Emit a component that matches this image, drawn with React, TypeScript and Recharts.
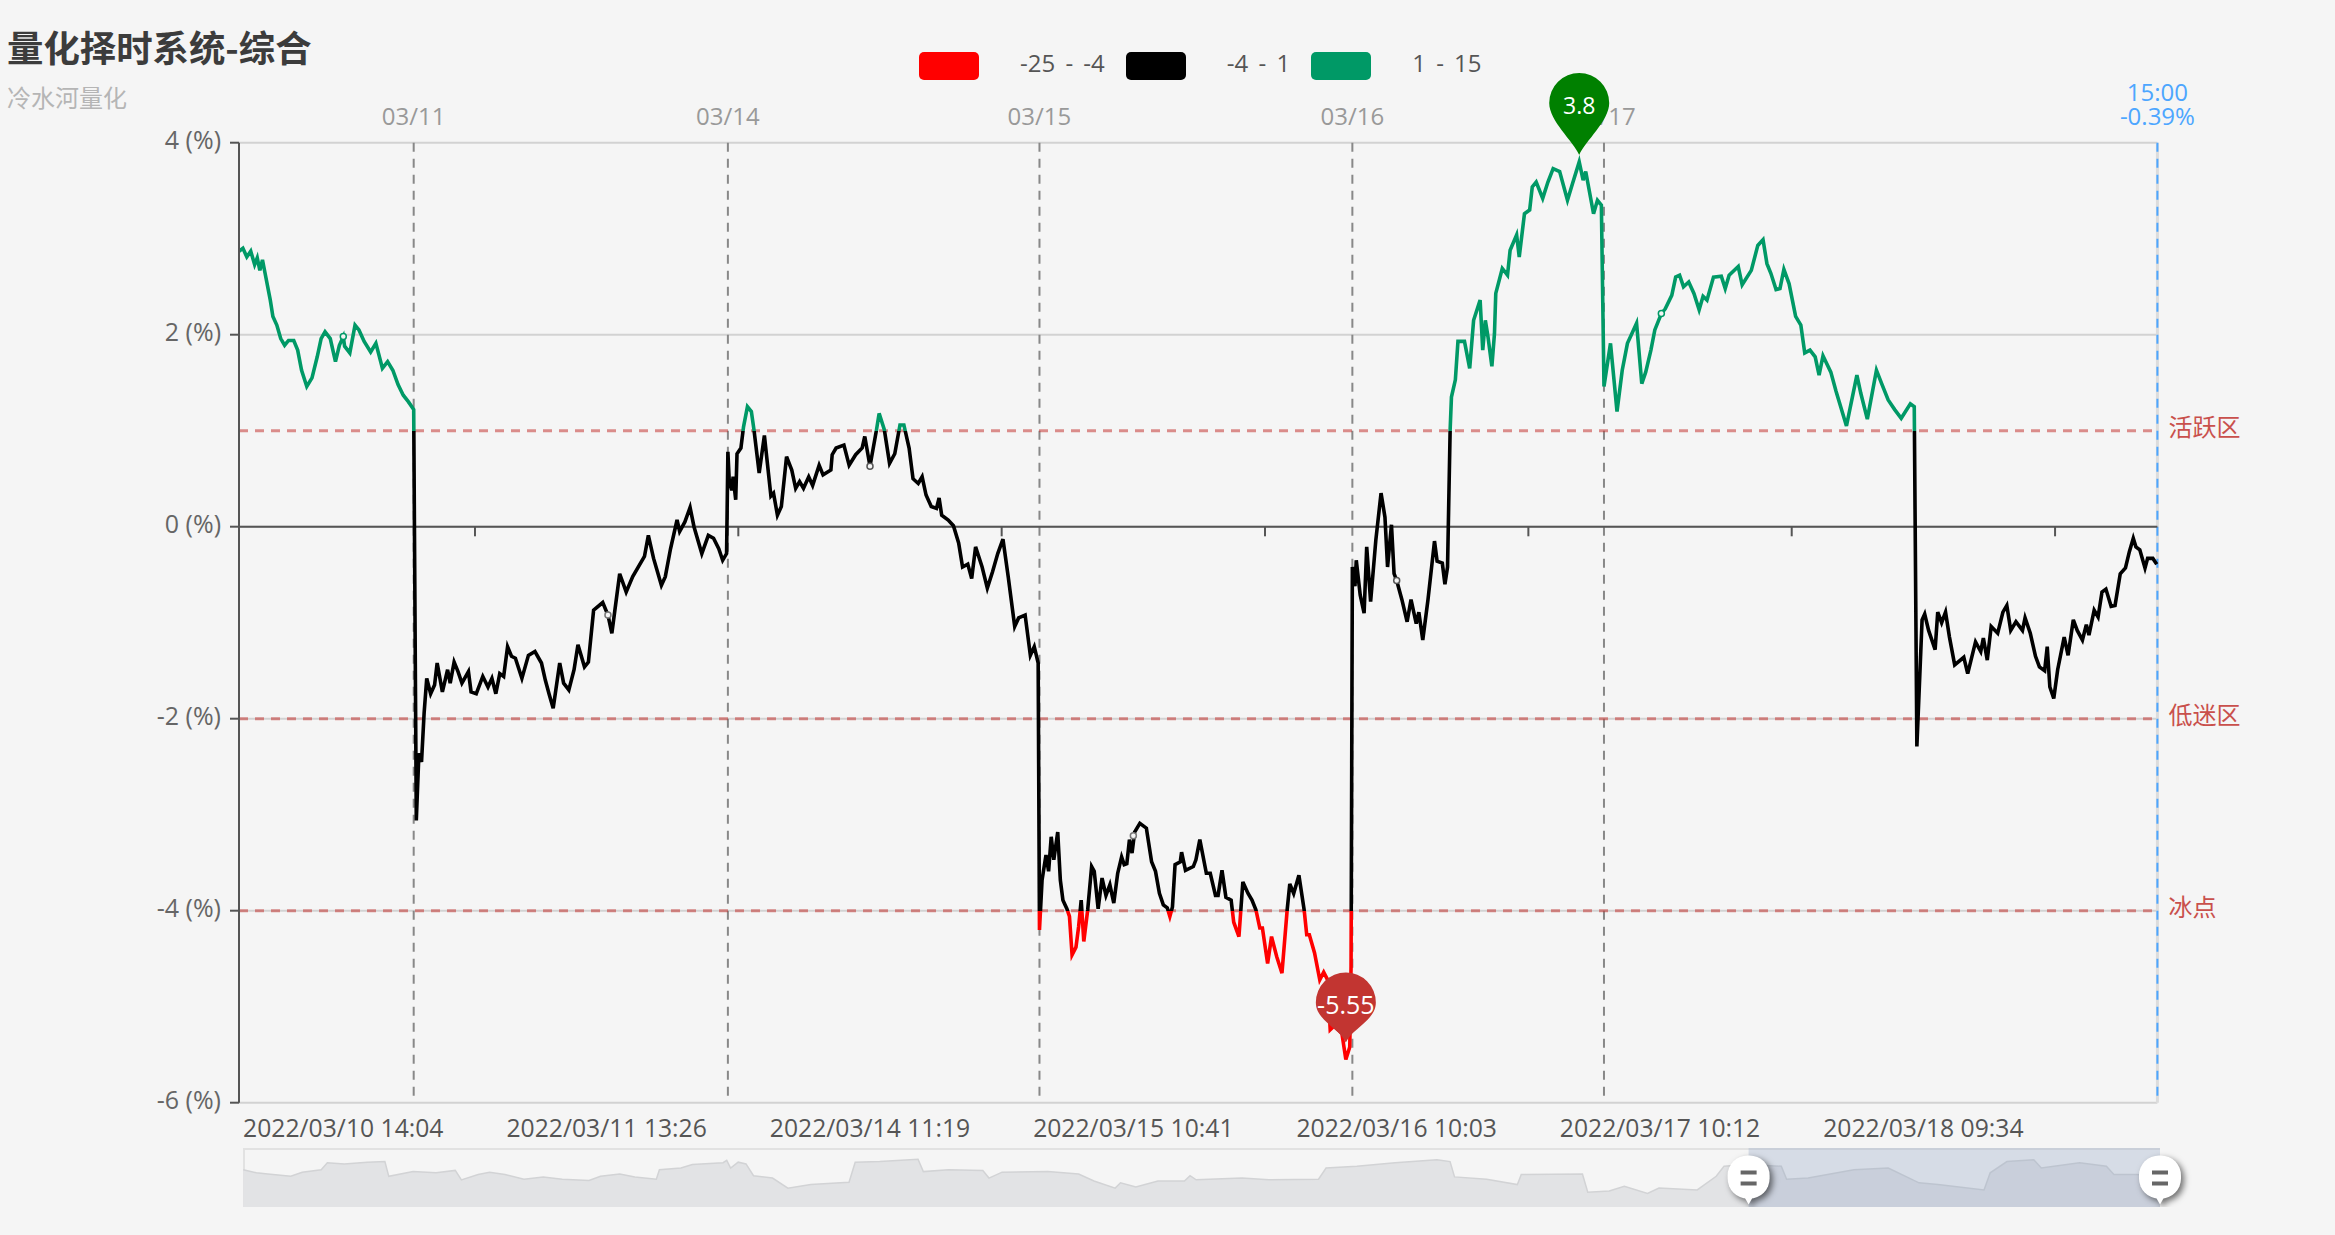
import { Area, AreaChart, CartesianGrid, Line, LineChart, ReferenceArea, ReferenceDot, ReferenceLine, XAxis, YAxis } from 'recharts';

const FONT = '"Open Sans", "Noto Sans CJK SC", sans-serif';

// [bar number, value %], one list per trading session
const session0310: [number, number][] = [
  [0, 2.87], [3, 2.9], [6, 2.81], [9, 2.87], [12, 2.73], [14, 2.8], [16, 2.67], [18, 2.78], [20, 2.64], [24, 2.36],
  [26, 2.19], [29, 2.1], [32, 1.96], [35, 1.89], [38, 1.94], [42, 1.94], [45, 1.84], [48, 1.63], [52, 1.46], [56, 1.55],
  [60, 1.77], [63, 1.96], [66, 2.03], [70, 1.96], [74, 1.72], [77, 1.89], [80, 1.98], [81, 1.88], [85, 1.81], [89, 2.1],
  [92, 2.05], [96, 1.93], [101, 1.82], [105, 1.91], [110, 1.65], [114, 1.72], [118, 1.63], [122, 1.48], [126, 1.37],
  [130, 1.3], [134, 1.22],
];
const session0311: [number, number][] = [
  [136, -3.06], [138, -2.36], [140, -2.45], [142, -1.94], [144, -1.58], [147, -1.74], [150, -1.65], [152, -1.42],
  [156, -1.72], [160, -1.49], [162, -1.63], [165, -1.41], [168, -1.51], [171, -1.63], [176, -1.51], [178, -1.72],
  [182, -1.74], [187, -1.56], [191, -1.67], [194, -1.58], [197, -1.74], [200, -1.53], [203, -1.56], [206, -1.25],
  [209, -1.35], [212, -1.37], [217, -1.58], [222, -1.34], [227, -1.3], [232, -1.42], [235, -1.6], [238, -1.75],
  [241, -1.89], [246, -1.42], [249, -1.63], [253, -1.7], [257, -1.49], [260, -1.23], [265, -1.46], [268, -1.41],
  [272, -0.87], [279, -0.79], [283, -0.92], [286, -1.11], [292, -0.49], [297, -0.68], [302, -0.52], [311, -0.31],
  [314, -0.09], [318, -0.33], [324, -0.61], [327, -0.52], [331, -0.23], [336, 0.07], [338, -0.05], [342, 0.05],
  [346, 0.2], [349, 0], [355, -0.28], [360, -0.09], [364, -0.12], [368, -0.23], [371, -0.35], [374, -0.28],
];
const session0314: [number, number][] = [
  [375, 0.78], [376, 0.49], [378, 0.38], [379, 0.52], [381, 0.28], [382, 0.76], [385, 0.82], [387, 1.04], [390, 1.25],
  [393, 1.2], [395, 1.01], [399, 0.56], [403, 0.95], [408, 0.32], [410, 0.35], [413, 0.12], [416, 0.21], [420, 0.73],
  [424, 0.59], [427, 0.4], [430, 0.47], [433, 0.4], [437, 0.52], [440, 0.43], [445, 0.64], [448, 0.54], [454, 0.59],
  [455, 0.75], [458, 0.82], [464, 0.85], [468, 0.64], [473, 0.75], [478, 0.82], [480, 0.94], [484, 0.63], [489, 1.01],
  [491, 1.18], [495, 1.01], [499, 0.66], [503, 0.76], [507, 1.06], [510, 1.06], [514, 0.82], [517, 0.5], [521, 0.45],
  [524, 0.52], [527, 0.33], [531, 0.21], [535, 0.19], [537, 0.3], [539, 0.12], [544, 0.07], [548, 0.01], [552, -0.17],
  [555, -0.42], [559, -0.39], [562, -0.54], [565, -0.21], [570, -0.42], [574, -0.64], [578, -0.47], [582, -0.28],
  [586, -0.13], [590, -0.52], [595, -1.04], [598, -0.95], [603, -0.92], [607, -1.34], [610, -1.25], [613, -1.42],
];
const session0315: [number, number][] = [
  [614, -4.2], [616, -3.68], [619, -3.42], [621, -3.59], [623, -3.23], [625, -3.47], [628, -3.18], [630, -3.68],
  [632, -3.89], [635, -3.98], [637, -4.06], [639, -4.46], [642, -4.38], [644, -4.17], [646, -3.89], [648, -4.32],
  [651, -3.99], [654, -3.54], [656, -3.59], [659, -3.98], [662, -3.66], [665, -3.84], [668, -3.73], [671, -3.92],
  [674, -3.61], [677, -3.44], [679, -3.52], [681, -3.51], [683, -3.26], [685, -3.4], [687, -3.18], [691, -3.09],
  [696, -3.14], [700, -3.49], [703, -3.59], [706, -3.82], [709, -3.94], [712, -3.97], [714, -4.06], [716, -3.96],
  [718, -3.52], [722, -3.49], [723, -3.39], [726, -3.58], [732, -3.54], [734, -3.47], [737, -3.26], [742, -3.61],
  [745, -3.61], [749, -3.84], [751, -3.84], [754, -3.58], [757, -3.86], [761, -3.89], [763, -4.12], [767, -4.27],
  [770, -3.7], [774, -3.82], [777, -3.89], [780, -3.99], [783, -4.18], [785, -4.18], [789, -4.55], [792, -4.27],
  [796, -4.48], [800, -4.65], [804, -3.99], [806, -3.72], [809, -3.82], [813, -3.63], [817, -3.99], [819, -4.25],
  [821, -4.25], [825, -4.44], [829, -4.72], [832, -4.64], [835, -4.72], [837, -5.24], [840, -5.2], [846, -5.28],
  [849, -5.55], [852, -5.42], [853, -4.58],
];
const session0316: [number, number][] = [
  [854, -0.42], [856, -0.62], [857, -0.35], [860, -0.71], [863, -0.9], [865, -0.21], [868, -0.78], [872, -0.14],
  [876, 0.35], [879, 0.1], [881, -0.42], [884, 0.02], [886, -0.49], [888, -0.56], [892, -0.76], [896, -0.99],
  [899, -0.76], [903, -1.01], [905, -0.89], [908, -1.18], [912, -0.76], [917, -0.15], [919, -0.36], [923, -0.38],
  [925, -0.6], [927, -0.42], [929, 1.01], [930, 1.35], [933, 1.53], [935, 1.93], [940, 1.93], [944, 1.65], [947, 2.15],
  [952, 2.36], [954, 1.84], [956, 2.15], [958, 1.98], [961, 1.67], [963, 2.01], [964, 2.43], [969, 2.69], [973, 2.62],
  [975, 2.88], [980, 3.04], [982, 2.81], [986, 3.26], [990, 3.3], [992, 3.54], [995, 3.59], [1000, 3.42], [1004, 3.59],
  [1008, 3.73], [1013, 3.7], [1019, 3.4], [1023, 3.58], [1028, 3.8], [1031, 3.61], [1033, 3.7], [1039, 3.26],
  [1042, 3.4], [1045, 3.35],
];
const session0317: [number, number][] = [
  [1047, 1.46], [1052, 1.91], [1057, 1.2], [1061, 1.63], [1065, 1.91], [1068, 2.0], [1072, 2.12], [1076, 1.49],
  [1079, 1.61], [1083, 1.84], [1086, 2.05], [1091, 2.22], [1094, 2.27], [1099, 2.41], [1102, 2.6], [1105, 2.62],
  [1108, 2.5], [1112, 2.55], [1116, 2.43], [1120, 2.26], [1123, 2.4], [1126, 2.36], [1131, 2.6], [1137, 2.61],
  [1140, 2.48], [1143, 2.62], [1150, 2.71], [1153, 2.52], [1160, 2.67], [1165, 2.93], [1169, 2.99], [1172, 2.74],
  [1175, 2.64], [1179, 2.47], [1182, 2.48], [1185, 2.68], [1189, 2.53], [1194, 2.19], [1198, 2.1], [1201, 1.81],
  [1205, 1.84], [1209, 1.77], [1212, 1.58], [1215, 1.78], [1221, 1.61], [1225, 1.41], [1233, 1.05], [1241, 1.58],
  [1244, 1.39], [1249, 1.12], [1256, 1.63], [1260, 1.49], [1265, 1.32], [1270, 1.22], [1275, 1.13], [1282, 1.28],
  [1285, 1.25],
];
const session0318: [number, number][] = [
  [1287, -2.29], [1291, -0.97], [1293, -0.91], [1296, -1.08], [1301, -1.28], [1303, -0.89], [1306, -1.0], [1309, -0.89],
  [1312, -1.15], [1316, -1.44], [1323, -1.36], [1326, -1.53], [1332, -1.2], [1336, -1.3], [1338, -1.16], [1341, -1.39],
  [1344, -1.04], [1349, -1.11], [1353, -0.89], [1356, -0.82], [1359, -1.08], [1363, -0.99], [1368, -1.08], [1370, -0.95],
  [1374, -1.11], [1378, -1.35], [1381, -1.46], [1385, -1.5], [1387, -1.25], [1389, -1.67], [1392, -1.79], [1395, -1.49],
  [1400, -1.15], [1403, -1.34], [1407, -0.97], [1410, -1.08], [1414, -1.18], [1417, -1.02], [1419, -1.13], [1423, -0.87],
  [1426, -0.94], [1429, -0.68], [1432, -0.65], [1436, -0.83], [1439, -0.82], [1443, -0.49], [1447, -0.43], [1450, -0.26],
  [1453, -0.12], [1455, -0.21], [1458, -0.24], [1462, -0.43], [1464, -0.33], [1468, -0.33], [1471, -0.39],
];

// silhouette in the zoom strip: [bar number, height in % of the strip]
const navigator: [number, number][] = [
  [1, 63], [48, 58], [89, 56], [171, 52], [212, 59], [280, 63], [302, 75], [363, 73], [445, 76], [508, 77], [522, 52],
  [609, 60], [691, 58], [760, 62], [782, 46], [842, 55], [883, 59], [938, 55], [1006, 47], [1075, 51], [1143, 47],
  [1239, 45], [1280, 52], [1349, 56], [1403, 51], [1480, 47], [1491, 63], [1568, 66], [1609, 72], [1719, 75], [1732, 79],
  [1746, 66], [1773, 76], [1801, 73], [1828, 53], [1896, 49], [1951, 32], [2033, 38], [2170, 42], [2192, 76], [2280, 77],
  [2417, 81], [2436, 60], [2526, 63], [2649, 62], [2671, 49], [2718, 59], [2882, 60], [2992, 56], [3047, 44], [3123, 32],
  [3142, 41], [3197, 34], [3276, 44], [3371, 44], [3391, 53], [3413, 46], [3577, 49], [3673, 46], [3851, 47], [3878, 66],
  [3988, 69], [4125, 75], [4275, 80], [4322, 77], [4338, 51], [4453, 47], [4563, 38], [4577, 55], [4796, 56], [4815, 25],
  [4892, 27], [4946, 35], [5029, 23], [5070, 32], [5207, 29], [5275, 52], [5303, 69], [5385, 72], [5508, 69], [5527, 47],
  [5604, 49], [5768, 63], [5891, 66], [6001, 41], [6069, 38], [6234, 29], [6256, 58], [6316, 77], [6412, 80], [6439, 66],
  [6576, 75], [6672, 69], [6699, 55], [6781, 55], [6864, 52],
];

const yTicks = [-6, -4, -2, 0, 2, 4];
const dayBars = [134, 375, 614, 854, 1047];
const dayLabels = ['03/11', '03/14', '03/15', '03/16', '03/17'];
const timeBars = [80, 282, 484, 686, 888, 1090, 1292];
const timeLabels = ['2022/03/10 14:04', '2022/03/11 13:26', '2022/03/14 11:19', '2022/03/15 10:41', '2022/03/16 10:03', '2022/03/17 10:12', '2022/03/18 09:34'];
const zeroTickBars = [181, 383, 585, 787, 989, 1191, 1393];
const endBar = 1471.5;
const zones = [
  { value: 1, name: '活跃区' },
  { value: -2, name: '低迷区' },
  { value: -4, name: '冰点' },
];
const legendItems = [
  { color: '#ff0000', name: '-25 - -4' },
  { color: '#000000', name: '-4 - 1' },
  { color: '#009966', name: '1 - 15' },
];
const hollowPoints = [
  { bar: 80, value: 1.98, color: '#009966' },
  { bar: 283, value: -0.92, color: '#777' },
  { bar: 484, value: 0.63, color: '#555' },
  { bar: 686, value: -3.22, color: '#777' },
  { bar: 888, value: -0.56, color: '#555' },
  { bar: 1091, value: 2.22, color: '#009966' },
];

const lineData = [...session0310, ...session0311, ...session0314, ...session0315, ...session0316, ...session0317, ...session0318]
  .map(([bar, value]) => ({ bar, value }));
const navData = navigator.map(([bar, level]) => ({ bar, level }));
const maxValue = Math.max(...lineData.map((d) => d.value));
const minValue = Math.min(...lineData.map((d) => d.value));
const offsetOf = (v: number) => `${((maxValue - v) / (maxValue - minValue)) * 100}%`;

function Pin({ cx, cy, lift, drop, fill, text, size }: any) {
  const tip = cy - lift;
  const mid = tip - drop;
  return (
    <g>
      <path
        d={`M${cx} ${tip} C${cx - 6} ${tip - 14} ${cx - 30} ${mid + 18} ${cx - 30} ${mid} A30 30 0 1 1 ${cx + 30} ${mid} C${cx + 30} ${mid + 18} ${cx + 6} ${tip - 14} ${cx} ${tip} Z`}
        fill={fill}
      />
      <text x={cx} y={mid + 11} textAnchor="middle" fill="#fff" fontSize={size} fontFamily={FONT}>{text}</text>
    </g>
  );
}

function DayTick({ x, y, payload }: any) {
  if (payload.value === endBar) {
    return (
      <g fontFamily={FONT} fontSize={24} fill="#4da6ff" textAnchor="middle">
        <text x={x} y={y - 34}>15:00</text>
        <text x={x} y={y - 10}>-0.39%</text>
      </g>
    );
  }
  return <text x={x} y={y - 10} textAnchor="middle" fontFamily={FONT} fontSize={24} fill="#999">{dayLabels[dayBars.indexOf(payload.value)]}</text>;
}

function Handle({ cx, cy }: any) {
  return (
    <g style={{ filter: 'drop-shadow(3px 3px 3px rgba(0,0,0,0.55))' }}>
      <path d={`M${cx - 4} ${cy + 20} L${cx} ${cy + 27} L${cx + 4} ${cy + 20} Z`} fill="#fff" />
      <rect x={cx - 21} y={cy - 22} width={42} height={43} rx={20} fill="#fff" />
      <rect x={cx - 8} y={cy - 7} width={16} height={4} fill="#666" />
      <rect x={cx - 8} y={cy + 4} width={16} height={4} fill="#666" />
    </g>
  );
}

export default function App() {
  return (
    <div style={{ position: 'absolute', left: 0, top: 0, width: 2335, height: 1235, background: '#f5f5f5', overflow: 'hidden', fontFamily: FONT }}>
      <div style={{ position: 'absolute', left: 7, top: 21, fontSize: 36.4, lineHeight: '50px', fontWeight: 700, color: '#3c3c3c', fontFamily: '"Noto Sans CJK SC", sans-serif' }}>量化择时系统-综合</div>
      <div style={{ position: 'absolute', left: 7, top: 80, fontSize: 24, lineHeight: '34px', color: '#b5b5b5', fontFamily: '"Noto Sans CJK SC", sans-serif' }}>冷水河量化</div>

      <div style={{ position: 'absolute', left: 919, top: 52, display: 'flex', gap: 21, alignItems: 'center', height: 28 }}>
        {legendItems.map((item) => (
          <div key={item.name} style={{ display: 'flex', alignItems: 'center' }}>
            <span style={{ width: 60, height: 28, borderRadius: 5, background: item.color, display: 'inline-block' }} />
            <span style={{ marginLeft: 41, fontSize: 24, lineHeight: '24px', color: '#555', whiteSpace: 'nowrap', wordSpacing: 4, position: 'relative', top: -3 }}>{item.name}</span>
          </div>
        ))}
      </div>

      <LineChart width={2335} height={1235} data={lineData} margin={{ top: 102.7, right: 177.6, bottom: 92.3, left: 139 }} style={{ position: 'absolute', left: 0, top: 0 }}>
        <defs>
          <linearGradient id="levelStroke" x1="0" y1="0" x2="0" y2="1">
            <stop offset={offsetOf(1)} stopColor="#009966" />
            <stop offset={offsetOf(1)} stopColor="#000000" />
            <stop offset={offsetOf(-4)} stopColor="#000000" />
            <stop offset={offsetOf(-4)} stopColor="#ff0000" />
          </linearGradient>
        </defs>
        <CartesianGrid vertical={false} stroke="#d2d2d2" strokeWidth={2} xAxisId="main" />
        <XAxis xAxisId="main" dataKey="bar" type="number" domain={[0, endBar]} ticks={timeBars} interval={0} height={40} axisLine={false} tickLine={false} tickFormatter={(_v: number, i: number) => timeLabels[i]} tick={{ fontSize: 24.7, fill: '#555', fontFamily: FONT, dy: 9 }} />
        <XAxis xAxisId="days" dataKey="bar" type="number" orientation="top" domain={[0, endBar]} ticks={[...dayBars, endBar]} interval={0} height={40} axisLine={false} tickLine={false} tick={<DayTick />} />
        <YAxis type="number" domain={[-6, 4]} ticks={yTicks} interval={0} width={100} tickSize={9} tickMargin={9} stroke="#555" strokeWidth={2} tickFormatter={(v: number) => `${v} (%)`} tick={{ fontSize: 25, fill: '#666', fontFamily: FONT, dy: -3 }} />

        {dayBars.map((bar) => (
          <ReferenceLine key={bar} xAxisId="main" x={bar} stroke="#888" strokeWidth={2} strokeDasharray="9 7" strokeDashoffset={9} />
        ))}
        <ReferenceLine xAxisId="main" x={endBar} stroke="#dcdcdc" strokeWidth={3} />
        <ReferenceLine xAxisId="main" x={endBar} stroke="#4da6ff" strokeWidth={2} strokeDasharray="9 7" strokeDashoffset={9} />
        <ReferenceLine xAxisId="main" y={0} stroke="#555" strokeWidth={2} />
        {zeroTickBars.map((bar) => (
          <ReferenceLine key={bar} xAxisId="main" segment={[{ x: bar, y: 0 }, { x: bar, y: -0.1 }]} stroke="#555" strokeWidth={2} />
        ))}
        {zones.map((z) => (
          <ReferenceLine key={z.name} xAxisId="main" y={z.value} stroke="#c23531" strokeOpacity={0.55} strokeWidth={3} strokeDasharray="9 7" label={{ value: z.name, position: 'right', fill: '#c9504c', fontSize: 24, fontFamily: '"Noto Sans CJK SC", sans-serif', offset: 11, dy: -3 }} />
        ))}

        <Line xAxisId="main" type="linear" dataKey="value" stroke="url(#levelStroke)" strokeWidth={3.6} dot={false} activeDot={false} isAnimationActive={false} />

        {hollowPoints.map((p) => (
          <ReferenceDot key={p.bar} xAxisId="main" x={p.bar} y={p.value} r={3} fill="#f5f5f5" stroke={p.color} strokeWidth={1.5} />
        ))}
      </LineChart>

      {/* second layer so the pins sit on top of the axis labels */}
      <LineChart width={2335} height={1235} data={lineData} margin={{ top: 142.7, right: 177.6, bottom: 132.3, left: 239 }} style={{ position: 'absolute', left: 0, top: 0 }}>
        <XAxis dataKey="bar" type="number" domain={[0, endBar]} hide />
        <YAxis type="number" domain={[-6, 4]} hide />
        <Line type="linear" dataKey="value" stroke="transparent" strokeWidth={0} dot={false} activeDot={false} isAnimationActive={false} />
        <ReferenceDot x={1028} y={3.8} ifOverflow="visible" shape={(props: any) => <Pin {...props} lift={7} drop={52} size={23} fill="#008000" text="3.8" />} />
        <ReferenceDot x={849} y={-5.55} ifOverflow="visible" shape={(props: any) => <Pin {...props} lift={17} drop={40} size={25} fill="#c23531" text="-5.55" />} />
      </LineChart>

      <div style={{ position: 'absolute', left: 243, top: 1148, width: 1917, height: 59, borderTop: '2px solid #e2e2e2', borderBottom: '2px solid #e2e2e2', borderLeft: '2px solid #e2e2e2', boxSizing: 'border-box' }} />
      <AreaChart width={2000} height={59} data={navData} margin={{ top: 0, right: 53, bottom: 0, left: 30 }} style={{ position: 'absolute', left: 213, top: 1148 }}>
        <XAxis dataKey="bar" type="number" domain={[0, 6864]} hide />
        <YAxis type="number" domain={[0, 100]} hide />
        <Area type="linear" dataKey="level" stroke="#d2d3d5" strokeWidth={1.5} fill="#e2e3e5" fillOpacity={1} isAnimationActive={false} />
        <ReferenceArea x1={5391} x2={6864} y1={0} y2={100} fill="#8fa3c4" fillOpacity={0.3} stroke="none" />
        <ReferenceDot x={5391} y={50} ifOverflow="visible" shape={(props: any) => <Handle {...props} />} />
        <ReferenceDot x={6864} y={50} ifOverflow="visible" shape={(props: any) => <Handle {...props} />} />
      </AreaChart>
    </div>
  );
}
